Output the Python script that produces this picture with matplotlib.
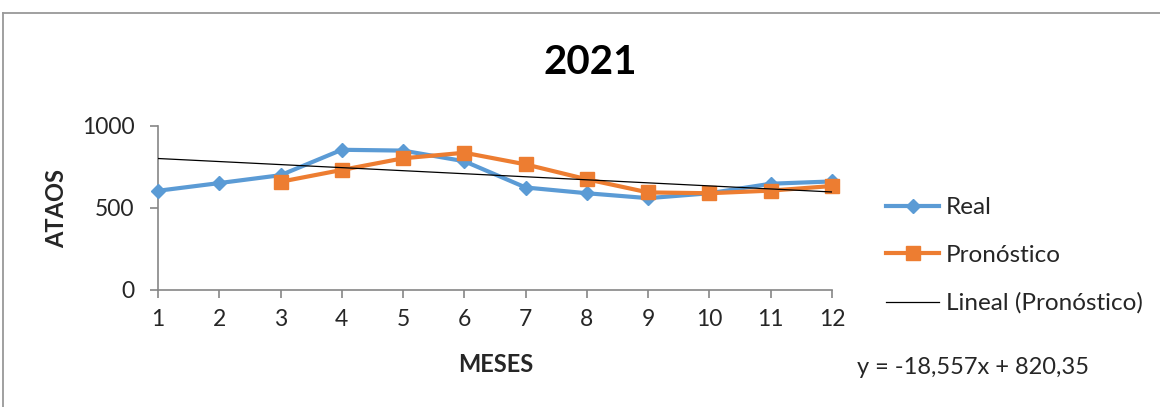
import matplotlib
matplotlib.use("Agg")
import matplotlib.pyplot as plt
from matplotlib.lines import Line2D

plt.rcParams['font.family'] = ['Lato', 'DejaVu Sans']

# monthly attack counts for 2021
meses = [1, 2, 3, 4, 5, 6, 7, 8, 9, 10, 11, 12]
real = [605, 652, 700, 855, 850, 785, 625, 590, 560, 590, 648, 662]
meses_pron = [3, 4, 5, 6, 7, 8, 9, 10, 11, 12]
pronostico = [660, 732, 803, 837, 766, 675, 595, 590, 606, 634]

# linear trend of the forecast, as printed on the chart
pendiente = -18.557
intercepto = 820.35

azul = '#5B9BD5'
naranja = '#ED7D31'
gris = '#868686'

fig = plt.figure(figsize=(11.6, 4.07), dpi=100)
ax = fig.add_axes([158 / 1160, 1 - 290 / 407, 674 / 1160, 164 / 407])

ax.plot(meses, real, color=azul, lw=3, marker='D', markersize=7.5,
        label='Real', clip_on=False, zorder=3)
ax.plot(meses_pron, pronostico, color=naranja, lw=3, marker='s', markersize=9.5,
        label='Pronóstico', clip_on=False, zorder=4)
tendencia = [pendiente * m + intercepto for m in meses]
ax.plot(meses, tendencia, color='black', lw=0.9, label='Lineal (Pronóstico)', zorder=5)

ax.set_xlim(1, 12)
ax.set_ylim(0, 1000)
ax.set_xticks(meses)
ax.set_yticks([0, 500, 1000])

for s in ['top', 'right']:
    ax.spines[s].set_visible(False)
for s in ['left', 'bottom']:
    ax.spines[s].set_color(gris)
    ax.spines[s].set_linewidth(1.2)
ax.tick_params(axis='both', colors=gris, labelcolor='#262626', labelsize=16.5,
               length=6, width=1.2)
ax.tick_params(axis='y', pad=11)
ax.tick_params(axis='x', pad=8)

fig.text(590 / 1160, 1 - 63 / 407, '2021', ha='center', va='center',
         fontsize=29, fontweight='bold', color='black')
fig.text(57 / 1160, 1 - 208 / 407, 'ATAOS', ha='center', va='center', rotation=90,
         fontsize=17, fontweight='bold', color='#262626')
fig.text(496 / 1160, 1 - 365 / 407, 'MESES', ha='center', va='center',
         fontsize=17, fontweight='bold', color='#262626')
fig.text(857 / 1160, 1 - 368 / 407, 'y = -18,557x + 820,35', ha='left', va='center',
         fontsize=17, color='#262626')

leg = ax.legend(loc='upper left', bbox_to_anchor=(886 / 1160, 1 - 197 / 407),
                bbox_transform=fig.transFigure, frameon=False, fontsize=17.5,
                handlelength=2.2, handletextpad=0.25, labelspacing=1.1,
                borderaxespad=0, borderpad=0)
for t in leg.get_texts():
    t.set_color('#262626')

# chart frame
fig.add_artist(Line2D([3 / 1160, 3 / 1160], [0, 1 - 13 / 407], color='#999999', lw=1.3,
                      transform=fig.transFigure))
fig.add_artist(Line2D([3 / 1160, 1], [1 - 13 / 407, 1 - 13 / 407], color='#999999', lw=1.3,
                      transform=fig.transFigure))

fig.savefig('out.png', dpi=100)
